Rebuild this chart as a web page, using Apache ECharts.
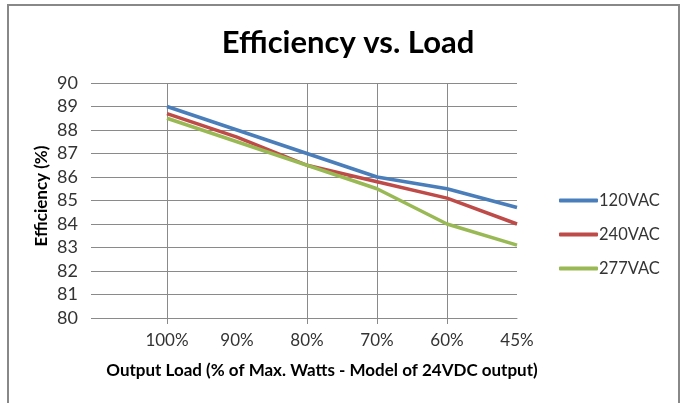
<!DOCTYPE html>
<html><head><meta charset="utf-8">
<script src="https://cdn.jsdelivr.net/npm/echarts@6/dist/echarts.min.js"></script>
<style>html,body{margin:0;padding:0;background:#fff}#c{width:683px;height:403px}</style>
</head><body><div id="c"></div>
<script>
const categories = ["", "100%", "90%", "80%", "70%", "60%", "45%"];
const seriesNames = ["120VAC", "240VAC", "277VAC"];
const v120 = [null, 89.0, 88.0, 87.0, 86.0, 85.5, 84.7];
const v240 = [null, 88.7, 87.7, 86.5, 85.8, 85.1, 84.0];
const v277 = [null, 88.5, 87.5, 86.5, 85.5, 84.0, 83.1];
const yMin = 80, yMax = 90, yStep = 1;
const colors = ["#4A7EBB", "#BE4B48", "#98B954"];
const titleText = "Efficiency vs. Load";
const xTitle = "Output Load (% of Max. Watts - Model of 24VDC output)";
const yTitle = "Efficiency (%)";

const FONT = "Lato";
const gridLinesAt = [1, 3, 4, 5];
const chart = echarts.init(document.getElementById('c'), null, {renderer: 'canvas'});
chart.setOption({
  animation: false,
  backgroundColor: '#fff',
  color: colors,
  title: {
    text: titleText, left: 343, top: 22, textAlign: 'center',
    textStyle: {fontFamily: FONT, fontWeight: 'bold', fontSize: 31, color: '#000'}
  },
  grid: {left: 97, top: 83, width: 420, height: 235},
  xAxis: {
    type: 'category', data: categories, boundaryGap: false,
    axisLine: {show: true, lineStyle: {color: '#8a8a8a', width: 1}},
    axisTick: {show: true, length: 6, interval: (i) => gridLinesAt.includes(i), lineStyle: {color: '#8a8a8a'}},
    axisLabel: {interval: 0, margin: 14, fontFamily: FONT, fontSize: 17, color: '#333'},
    splitLine: {show: true, interval: (i) => gridLinesAt.includes(i), lineStyle: {color: '#8a8a8a', width: 1}}
  },
  yAxis: {
    type: 'value', min: yMin, max: yMax, interval: yStep,
    axisLine: {show: false},
    axisTick: {show: true, length: 6, lineStyle: {color: '#8a8a8a'}},
    axisLabel: {margin: 19, fontFamily: FONT, fontSize: 18, color: '#333'},
    splitLine: {show: true, lineStyle: {color: '#8a8a8a', width: 1}}
  },
  legend: {
    orient: 'vertical', left: 559, top: 192, padding: 0,
    data: seriesNames,
    icon: 'roundRect', itemWidth: 39, itemHeight: 4, itemGap: 17,
    textStyle: {fontFamily: FONT, fontSize: 16.5, color: '#333', lineHeight: 16, padding: [0,0,0,-4]}
  },
  graphic: [
    {type: 'rect', shape: {x: 8, y: 5, width: 671, height: 410}, style: {fill: 'none', stroke: '#888', lineWidth: 2}, silent: true},
    {type: 'text', x: 322, y: 371, style: {text: xTitle, fontFamily: FONT, fontWeight: 'bold', fontSize: 17, fill: '#000', align: 'center', verticalAlign: 'middle'}},
    {type: 'text', x: 42, y: 196, rotation: Math.PI / 2, style: {text: yTitle, fontFamily: FONT, fontWeight: 'bold', fontSize: 17, fill: '#000', align: 'center', verticalAlign: 'middle'}}
  ],
  series: [
    {name: seriesNames[0], type: 'line', data: v120, symbol: 'none', lineStyle: {width: 3.5}},
    {name: seriesNames[1], type: 'line', data: v240, symbol: 'none', lineStyle: {width: 3.5}},
    {name: seriesNames[2], type: 'line', data: v277, symbol: 'none', lineStyle: {width: 3.5}}
  ]
});
</script>
</body></html>
